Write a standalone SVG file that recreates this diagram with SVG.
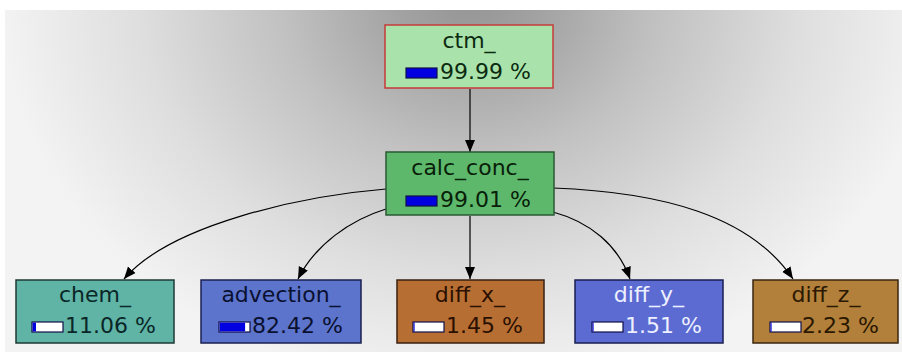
<svg xmlns="http://www.w3.org/2000/svg" width="902" height="352" viewBox="0 0 902 352">
<defs>
<radialGradient id="bg" gradientUnits="userSpaceOnUse" cx="0" cy="0" r="1" gradientTransform="translate(470,0) scale(470,390)">
<stop offset="0" stop-color="#959595"/>
<stop offset="0.15" stop-color="#a2a2a2"/>
<stop offset="0.4" stop-color="#c1c1c1"/>
<stop offset="0.7" stop-color="#dedede"/>
<stop offset="1" stop-color="#f3f3f3"/>
</radialGradient>
<marker id="arr" markerUnits="userSpaceOnUse" markerWidth="13" markerHeight="13" viewBox="0 0 13 13" refX="12" refY="6.5" orient="auto">
<path d="M0,1.5 L12,6.5 L0,11.5 Z" fill="#000"/>
</marker>
<style>
.box{stroke-width:1.5}
.t{font-family:"DejaVu Sans","Liberation Sans",sans-serif;font-size:22px}
.c{text-anchor:middle}
.bar{stroke:#10104a;stroke-width:1.2}
.edge{fill:none;stroke:#000;stroke-width:1.2;marker-end:url(#arr)}
</style>
</defs>
<rect x="0" y="0" width="902" height="352" fill="#fff"/>
<rect x="5" y="10" width="897" height="342" fill="url(#bg)"/>

<g id="edges">
<path class="edge" d="M470,89 L470,152"/>
<path class="edge" d="M386,189 C300,196 170,225 124,279"/>
<path class="edge" d="M386,209 C350,220 315,245 298,279"/>
<path class="edge" d="M470,216 L470,279"/>
<path class="edge" d="M553,212 C590,222 618,245 630,279"/>
<path class="edge" d="M553,188 C660,192 750,215 793,279"/>
</g>

<g id="ctm">
<rect class="box" x="385" y="25" width="168" height="63" fill="#a9e3ab" stroke="#c83a3a"/>
<text class="t c" x="469" y="48" fill="#0c2a10">ctm_</text>
<rect class="bar" x="406" y="68" width="31" height="10" fill="#0000e0"/>
<text class="t" x="440" y="79" fill="#0c2a10">99.99 %</text>
</g>

<g id="calc_conc">
<rect class="box" x="386" y="152" width="168" height="63" fill="#5db86c" stroke="#2a5a34"/>
<text class="t c" x="470" y="175" fill="#082008">calc_conc_</text>
<rect class="bar" x="406" y="196" width="31" height="10" fill="#0000e0"/>
<text class="t" x="440" y="207" fill="#082008">99.01 %</text>
</g>

<g id="chem">
<rect class="box" x="16" y="280" width="158" height="63" fill="#5fb4a6" stroke="#1e3a36"/>
<text class="t c" x="95" y="302" fill="#0a2626">chem_</text>
<rect class="bar" x="32" y="322" width="31" height="10" fill="#fff"/>
<rect x="32.6" y="322.6" width="3.4" height="8.8" fill="#0000e0"/>
<text class="t" x="65" y="333" fill="#0a2626">11.06 %</text>
</g>

<g id="advection">
<rect class="box" x="201" y="280" width="160" height="63" fill="#5c74cc" stroke="#1a2050"/>
<text class="t c" x="281" y="302" fill="#0a1030">advection_</text>
<rect class="bar" x="219" y="322" width="31" height="10" fill="#fff"/>
<rect x="219.6" y="322.6" width="25.5" height="8.8" fill="#0000e0"/>
<text class="t" x="252" y="333" fill="#0a1030">82.42 %</text>
</g>

<g id="diff_x">
<rect class="box" x="397" y="280" width="147" height="63" fill="#b76e33" stroke="#3a2010"/>
<text class="t c" x="470" y="302" fill="#2a1000">diff_x_</text>
<rect class="bar" x="413" y="322" width="31" height="10" fill="#fff"/>
<rect x="413.6" y="322.6" width="1" height="8.8" fill="#0000e0"/>
<text class="t" x="446" y="333" fill="#2a1000">1.45 %</text>
</g>

<g id="diff_y">
<rect class="box" x="575" y="280" width="148" height="63" fill="#5b6bd2" stroke="#1a1e50"/>
<text class="t c" x="649" y="302" fill="#eef0ff">diff_y_</text>
<rect class="bar" x="592" y="322" width="31" height="10" fill="#fff"/>
<rect x="592.6" y="322.6" width="1" height="8.8" fill="#0000e0"/>
<text class="t" x="625" y="333" fill="#eef0ff">1.51 %</text>
</g>

<g id="diff_z">
<rect class="box" x="753" y="280" width="145" height="63" fill="#b2803a" stroke="#3a2610"/>
<text class="t c" x="826" y="302" fill="#2a1800">diff_z_</text>
<rect class="bar" x="770" y="322" width="31" height="10" fill="#fff"/>
<rect x="770.6" y="322.6" width="1" height="8.8" fill="#0000e0"/>
<text class="t" x="802" y="333" fill="#2a1800">2.23 %</text>
</g>
</svg>
